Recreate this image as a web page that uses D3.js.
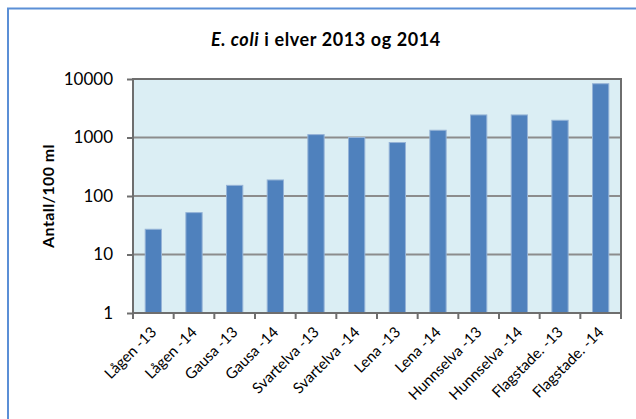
<!DOCTYPE html>
<html>
<head>
<meta charset="utf-8">
<script src="https://cdn.jsdelivr.net/npm/d3@7"></script>
<style>
  body { margin: 0; background: #fff; }
  svg text { font-family: Lato, "Open Sans", sans-serif; fill: #000; }
</style>
</head>
<body>
<svg width="636" height="419"></svg>
<script>
var categories = ["Lågen -13", "Lågen -14", "Gausa -13", "Gausa -14", "Svartelva -13", "Svartelva -14",
    "Lena -13", "Lena -14", "Hunnselva -13", "Hunnselva -14", "Flagstade. -13", "Flagstade. -14"];
var values = [27, 52, 152, 188, 1120, 1000, 820, 1330, 2430, 2430, 1970, 8300];
var yTicks = [1, 10, 100, 1000, 10000];

var svg = d3.select("svg"),
    margin = { top: 79, right: 15, bottom: 106, left: 133 },
    width = +svg.attr("width") - margin.left - margin.right,
    height = +svg.attr("height") - margin.top - margin.bottom;

// outer chart frame
svg.append("rect")
    .attr("x", 8).attr("y", 8.5)
    .attr("width", 640).attr("height", 420)
    .attr("fill", "none")
    .attr("stroke", "#5b8fd6")
    .attr("stroke-width", 2);

var x = d3.scaleBand().domain(categories).range([0, width]).paddingInner(0.6).paddingOuter(0.3),
    y = d3.scaleLog().domain([1, 10000]).range([height, 0]);

var g = svg.append("g")
    .attr("transform", "translate(" + margin.left + "," + margin.top + ")");

g.append("rect")
    .attr("width", width)
    .attr("height", height)
    .attr("fill", "#dbeef4");

// gridlines
g.selectAll(".grid")
    .data(yTicks.slice(1))
    .enter().append("line")
    .attr("x1", 0).attr("x2", width)
    .attr("y1", function(d) { return y(d); })
    .attr("y2", function(d) { return y(d); })
    .attr("stroke", "#8c8c8c")
    .attr("stroke-width", 2);

g.selectAll(".bar")
    .data(values)
    .enter().append("rect")
    .attr("x", function(d, i) { return x(categories[i]); })
    .attr("y", function(d) { return y(d); })
    .attr("width", x.bandwidth())
    .attr("height", function(d) { return height - y(d); })
    .attr("fill", "#4f81bd")
    .attr("stroke", "#95b3d7")
    .attr("stroke-width", 1);

// plot border
g.append("rect")
    .attr("width", width)
    .attr("height", height)
    .attr("fill", "none")
    .attr("stroke", "#6e6e6e")
    .attr("stroke-width", 2);

var yAxis = d3.axisLeft(y)
    .tickValues(yTicks)
    .tickFormat(d3.format("d"))
    .tickSize(6)
    .tickPadding(14);

var ya = g.append("g").call(yAxis);
ya.select(".domain").remove();
ya.selectAll("line").attr("stroke", "#6e6e6e").attr("stroke-width", 2);
ya.selectAll("text").style("font-size", "17px").attr("fill", "#000");

// x ticks at category boundaries
var bounds = d3.range(categories.length + 1).map(function(i) { return i * width / categories.length; });
g.selectAll(".xtick")
    .data(bounds)
    .enter().append("line")
    .attr("x1", function(d) { return d; })
    .attr("x2", function(d) { return d; })
    .attr("y1", height).attr("y2", height + 6)
    .attr("stroke", "#6e6e6e")
    .attr("stroke-width", 2);

g.selectAll(".xlabel")
    .data(categories)
    .enter().append("text")
    .attr("transform", function(d) {
        return "translate(" + (x(d) + x.bandwidth() / 2 + 4) + "," + (height + 20) + ") rotate(-45)";
    })
    .attr("text-anchor", "end")
    .style("font-size", "15px")
    .text(function(d) { return d; });

// title
var title = svg.append("text")
    .attr("x", 326)
    .attr("y", 46)
    .attr("text-anchor", "middle")
    .style("font-size", "18px")
    .style("font-weight", "bold")
    .style("letter-spacing", "0.6px");
title.append("tspan").style("font-style", "italic").text("E. coli");
title.append("tspan").text(" i elver 2013 og 2014");

svg.append("text")
    .attr("transform", "translate(54," + (margin.top + height / 2) + ") rotate(-90)")
    .attr("text-anchor", "middle")
    .style("font-size", "16px")
    .style("font-weight", "bold")
    .style("letter-spacing", "0.4px")
    .text("Antall/100 ml");
</script>
</body>
</html>
